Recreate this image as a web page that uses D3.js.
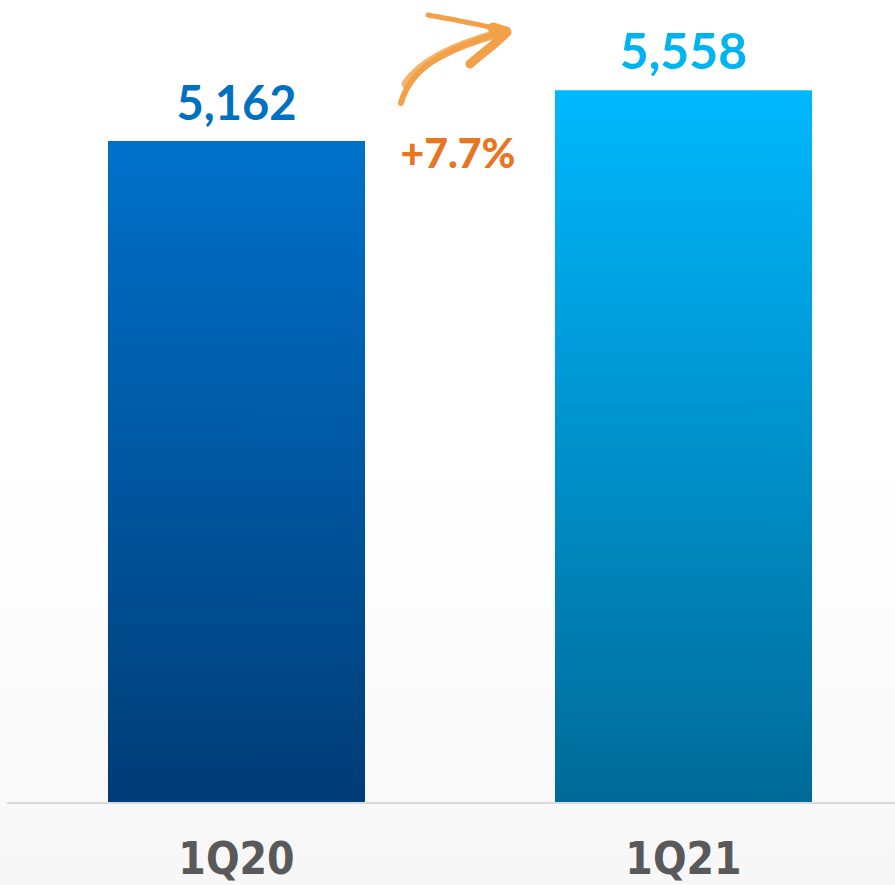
<!DOCTYPE html>
<html><head><meta charset="utf-8">
<script src="https://cdn.jsdelivr.net/npm/d3@7"></script>
<style>html,body{margin:0;padding:0;background:#fff;}svg{display:block;}</style>
</head><body>
<script>
const categories = ["1Q20", "1Q21"];
const values = [5162, 5558];
const valueLabels = ["5,162", "5,558"];
const changeLabel = "+7.7%";

const W = 895, H = 885;
const svg = d3.select("body").append("svg").attr("width", W).attr("height", H);
const defs = svg.append("defs");

const bg = defs.append("linearGradient").attr("id","bg").attr("x1",0).attr("y1",0).attr("x2",0).attr("y2",1);
bg.append("stop").attr("offset","0.5").attr("stop-color","#ffffff");
bg.append("stop").attr("offset","1").attr("stop-color","#f7f7f7");
svg.append("rect").attr("width",W).attr("height",H).attr("fill","url(#bg)");

const grads = [["#0071ca","#003c76"],["#00b8fd","#006a98"]];
grads.forEach((g,i)=>{
  const lg = defs.append("linearGradient").attr("id","g"+i).attr("x1",0).attr("y1",0).attr("x2",0).attr("y2",1);
  lg.append("stop").attr("offset","0").attr("stop-color",g[0]);
  lg.append("stop").attr("offset","1").attr("stop-color",g[1]);
});

const x = d3.scaleBand().domain(categories).range([13, 907]).paddingInner(0.425).paddingOuter(0.2125);
const baseY = 802;
const y = d3.scaleLinear().domain([0, 5162]).range([baseY, 141]);

svg.selectAll("rect.bar").data(values).join("rect").attr("class","bar")
  .attr("x",(d,i)=>x(categories[i])).attr("width",x.bandwidth())
  .attr("y",d=>y(d)).attr("height",d=>baseY-y(d))
  .attr("fill",(d,i)=>`url(#g${i})`);

svg.append("line").attr("x1",7).attr("x2",W).attr("y1",baseY+1).attr("y2",baseY+1)
  .attr("stroke","#d9d9d9").attr("stroke-width",2);

const labelColors = ["#0070c0","#00b4f0"];
const labelSizes = [47, 50];
svg.selectAll("text.val").data(values).join("text").attr("class","val")
  .attr("x",(d,i)=>x(categories[i])+x.bandwidth()/2)
  .attr("y",d=>y(d)-21)
  .attr("text-anchor","middle")
  .attr("font-family","'Century Gothic','URW Gothic','Lato','DejaVu Sans',sans-serif")
  .attr("font-weight","bold")
  .attr("font-size",(d,i)=>labelSizes[i])
  .attr("fill",(d,i)=>labelColors[i])
  .text((d,i)=>valueLabels[i]);

// axis labels
const xAxis = d3.axisBottom(x).tickSize(0).tickPadding(0);
const ax = svg.append("g").attr("transform",`translate(0,${baseY})`).call(xAxis);
ax.select(".domain").remove();
ax.selectAll("text").attr("dy",null).attr("y",72)
  .attr("font-family","'Liberation Sans Narrow','DejaVu Sans Condensed','Roboto',sans-serif")
  .attr("font-weight","bold").attr("font-size",44).attr("fill","#595959");

// change label
svg.append("text").attr("x",458).attr("y",168).attr("text-anchor","middle")
  .attr("font-family","'Century Gothic','URW Gothic','Lato','DejaVu Sans',sans-serif")
  .attr("font-weight","900").attr("font-size",41).attr("fill","#e8751f")
  .text(changeLabel);

// brush arrow
const arrowCol = "#f39a3a";
const ag = svg.append("g").attr("fill","none").attr("stroke",arrowCol).attr("stroke-linecap","round").attr("opacity",0.92);
ag.append("path").attr("d","M401,103 C410,70 440,50 503,32").attr("stroke-width",6);
ag.append("path").attr("d","M406,84 C420,62 452,46 500,33").attr("stroke-width",9).attr("opacity",0.8);
ag.append("path").attr("d","M428,15 C455,20 480,24 506,31").attr("stroke-width",5);
ag.append("path").attr("d","M506,33 C498,42 484,52 470,64").attr("stroke-width",9);
ag.append("path").attr("d","M493,28 L506,32").attr("stroke-width",11);
</script>
</body></html>
